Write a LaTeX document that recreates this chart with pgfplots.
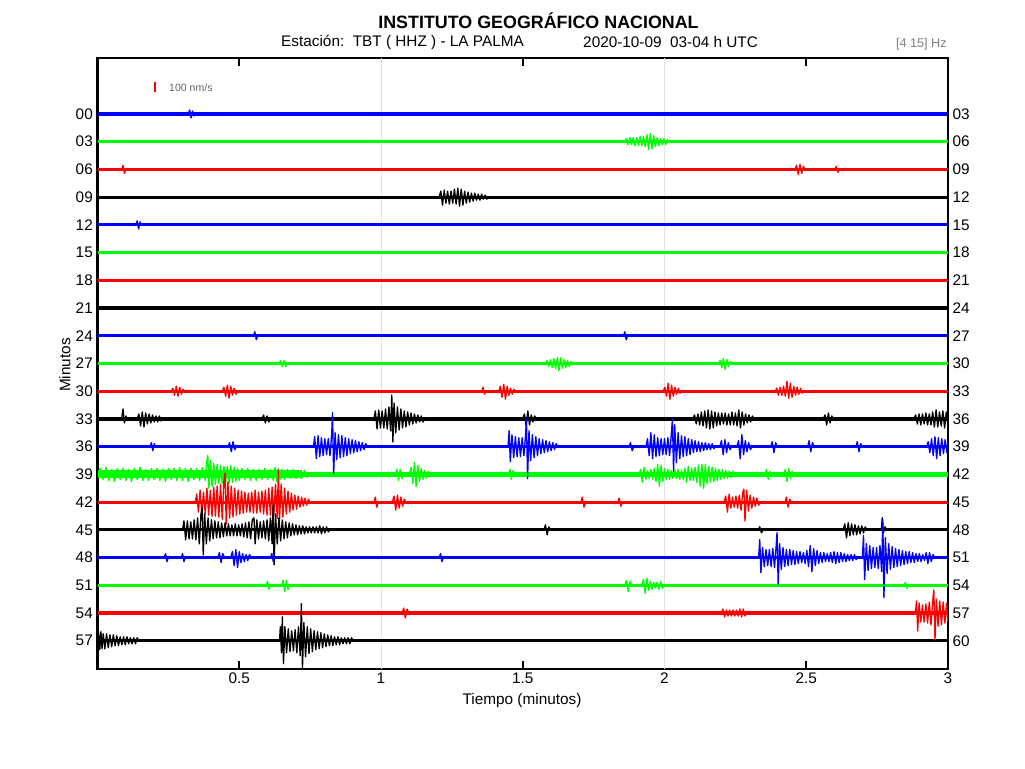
\documentclass[border=0pt]{standalone}
\usepackage{pgfplots}
\pgfplotsset{compat=1.18}
\usepackage{fontspec}
\setmainfont{Liberation Sans}

% one trace: colour, row index, table "t a" (a = amplitude in px)
\newcommand{\trace}[3]{\addplot[#1, line width=1pt, line join=round] table[row sep=\\, x=t, y expr={-#2+\thisrow{a}/27.74}] {#3};}
\newcommand{\base}[2]{\addplot[#1, line width=2.4pt] coordinates {(0,-#2) (3,-#2)};}

\begin{document}
\begin{tikzpicture}
\path[use as bounding box] (-73.125pt,-74.625pt) rectangle (695.625pt,501.375pt);

\begin{axis}[
    at={(0pt,0pt)}, anchor=south west,
    scale only axis, width=637.875pt, height=457.5pt,
    xmin=0, xmax=3, ymin=-20, ymax=2,
    axis line style={line width=1.5pt},
    tick align=inside, major tick length=6pt,
    tick style={line width=1.5pt, black},
    xtick={0.5,1.5,2.5,3}, xticklabels={0.5,1.5,2.5,3},
    extra x ticks={1,2}, extra x tick labels={1,2},
    extra x tick style={grid=major, major tick length=0pt,
        major grid style={gray!22, line width=0.75pt}},
    ytick={0,-1,...,-19},
    yticklabels={00,03,06,09,12,15,18,21,24,27,30,33,36,39,42,45,48,51,54,57},
    ytick style={draw=none},
    tick label style={font=\fontsize{11.5}{13}\selectfont},
]
% noise bands
\base{blue}{0} \base{green}{1} \base{red}{2} \base{black}{3}
\base{blue}{4} \base{green}{5} \base{red}{6} \base{black}{7}
\base{blue}{8} \base{green}{9} \base{red}{10} \base{black}{11}
\base{blue}{12} \addplot[green, line width=3.2pt] coordinates {(0,-13) (3,-13)};
\addplot[green, line width=6pt] coordinates {(0,-13) (0.72,-13)};
\base{red}{14} \base{black}{15}
\base{blue}{16} \base{green}{17} \base{red}{18} \base{black}{19}

% events
\trace{blue}{0}{t a\\0.32 0\\0.325 4\\0.33 -4\\0.335 3\\0.34 -2\\0.345 0\\}
\trace{green}{1}{t a\\1.86 0\\1.866 3\\1.872 -3\\1.878 4\\1.884 -3\\1.89 4\\1.896 -4\\1.902 4\\1.908 -4\\1.914 5\\1.92 -4\\1.926 5\\1.932 -5\\1.938 7\\1.944 -8\\1.95 8\\1.956 -7\\1.962 6\\1.968 -5\\1.974 4\\1.98 -4\\1.986 3\\1.992 -3\\1.998 3\\2.004 -3\\2.01 2\\2.016 0\\}
\trace{red}{2}{t a\\0.085 0\\0.09 4\\0.095 -4\\0.1 0\\2.46 0\\2.466 4\\2.472 -5\\2.478 5\\2.484 -4\\2.49 3\\2.496 0\\2.6 0\\2.606 3\\2.612 -3\\2.618 0\\}
\trace{black}{3}{t a\\1.205 0\\1.211 6\\1.217 -8\\1.223 7\\1.229 -6\\1.235 6\\1.241 -7\\1.247 6\\1.253 -6\\1.259 8\\1.265 -7\\1.271 9\\1.277 -9\\1.283 8\\1.289 -8\\1.295 6\\1.301 -6\\1.307 5\\1.313 -5\\1.319 4\\1.325 -4\\1.331 4\\1.337 -3\\1.343 3\\1.349 -3\\1.355 3\\1.361 -2\\1.367 2\\1.373 -2\\1.38 0\\}
\trace{blue}{4}{t a\\0.135 0\\0.14 4\\0.145 -4\\0.15 3\\0.155 0\\}
\trace{blue}{8}{t a\\0.55 0\\0.555 4\\0.56 -4\\0.565 0\\1.855 0\\1.86 4\\1.865 -4\\1.87 0\\}
\trace{green}{9}{t a\\0.64 0\\0.646 3\\0.652 -3\\0.658 3\\0.664 -3\\0.67 0\\1.58 0\\1.586 3\\1.592 -3\\1.598 4\\1.604 -4\\1.61 5\\1.616 -5\\1.622 6\\1.628 -7\\1.634 6\\1.64 -5\\1.646 4\\1.652 -4\\1.658 3\\1.664 -3\\1.67 2\\1.676 0\\2.19 0\\2.196 3\\2.202 -4\\2.208 5\\2.214 -6\\2.22 4\\2.226 -3\\2.232 2\\2.238 0\\}
\trace{red}{10}{t a\\0.26 0\\0.266 3\\0.272 -4\\0.278 5\\0.284 -5\\0.29 4\\0.296 -3\\0.302 2\\0.308 0\\0.44 0\\0.446 4\\0.452 -5\\0.458 6\\0.464 -7\\0.47 5\\0.476 -4\\0.482 3\\0.488 -3\\0.494 0\\1.355 0\\1.36 4\\1.365 -3\\1.37 0\\1.415 0\\1.421 5\\1.427 -6\\1.433 7\\1.439 -8\\1.445 5\\1.451 -4\\1.457 3\\1.463 -3\\1.469 2\\1.475 0\\1.995 0\\2.001 4\\2.007 -5\\2.013 8\\2.019 -8\\2.025 6\\2.031 -5\\2.037 4\\2.043 -3\\2.049 3\\2.055 -2\\2.061 0\\2.39 0\\2.396 3\\2.402 -4\\2.408 4\\2.414 -4\\2.42 5\\2.426 -5\\2.432 10\\2.438 -7\\2.444 8\\2.45 -6\\2.456 5\\2.462 -4\\2.468 4\\2.474 -3\\2.48 3\\2.486 -2\\2.492 0\\}
\trace{black}{11}{t a\\0.085 0\\0.09 10\\0.095 -4\\0.1 3\\0.105 0\\0.14 0\\0.146 5\\0.152 -7\\0.158 7\\0.164 -8\\0.17 6\\0.176 -5\\0.182 5\\0.188 -4\\0.194 4\\0.2 -3\\0.206 3\\0.212 -3\\0.218 3\\0.224 -2\\0.23 0\\0.58 0\\0.586 4\\0.592 -4\\0.598 3\\0.604 -3\\0.61 0\\0.975 0\\0.98 8\\0.986 -10\\0.992 9\\0.998 -9\\1.004 8\\1.01 -9\\1.016 10\\1.022 -10\\1.028 12\\1.034 -12\\1.038 24\\1.042 -23\\1.046 16\\1.052 -14\\1.058 12\\1.064 -11\\1.07 10\\1.076 -9\\1.082 8\\1.088 -8\\1.094 7\\1.1 -6\\1.106 6\\1.112 -5\\1.118 5\\1.124 -4\\1.13 4\\1.136 -3\\1.142 3\\1.148 -3\\1.155 0\\1.5 0\\1.506 5\\1.512 -7\\1.518 8\\1.524 -6\\1.53 4\\1.536 -3\\1.542 3\\1.548 0\\2.1 0\\2.106 4\\2.112 -5\\2.118 5\\2.124 -6\\2.13 7\\2.136 -7\\2.142 8\\2.148 -9\\2.154 9\\2.16 -10\\2.166 8\\2.172 -9\\2.178 7\\2.184 -7\\2.19 6\\2.196 -6\\2.202 6\\2.208 -5\\2.214 6\\2.22 -6\\2.226 5\\2.232 -6\\2.238 7\\2.244 -6\\2.25 6\\2.256 -7\\2.262 9\\2.268 -9\\2.274 7\\2.28 -6\\2.286 5\\2.292 -4\\2.298 4\\2.304 -3\\2.31 3\\2.316 0\\2.56 0\\2.566 4\\2.572 -6\\2.578 6\\2.584 -4\\2.59 3\\2.596 0\\2.88 0\\2.886 4\\2.892 -5\\2.898 5\\2.904 -6\\2.91 5\\2.916 -5\\2.922 6\\2.928 -6\\2.934 5\\2.94 -6\\2.946 7\\2.952 -8\\2.958 9\\2.964 -8\\2.97 7\\2.976 -7\\2.982 8\\2.988 -9\\2.994 7\\3.0 -6\\}
\trace{blue}{12}{t a\\0.185 0\\0.19 4\\0.195 -4\\0.2 3\\0.205 0\\0.46 0\\0.466 4\\0.472 -5\\0.478 5\\0.484 -3\\0.49 0\\0.762 0\\0.766 10\\0.772 -12\\0.778 11\\0.784 -10\\0.79 9\\0.796 -9\\0.802 8\\0.808 -8\\0.814 8\\0.82 -9\\0.826 12\\0.829 34\\0.833 -28\\0.838 14\\0.844 -13\\0.85 12\\0.856 -11\\0.862 11\\0.868 -10\\0.874 9\\0.88 -9\\0.886 8\\0.892 -7\\0.898 7\\0.904 -6\\0.91 6\\0.916 -5\\0.922 5\\0.928 -4\\0.934 4\\0.94 -3\\0.946 3\\0.952 0\\1.448 0\\1.452 16\\1.456 -15\\1.462 12\\1.468 -11\\1.474 10\\1.48 -10\\1.486 9\\1.492 -10\\1.498 9\\1.504 -9\\1.51 12\\1.513 28\\1.517 -32\\1.522 16\\1.528 -14\\1.534 12\\1.54 -11\\1.546 10\\1.552 -9\\1.558 8\\1.564 -7\\1.57 7\\1.576 -6\\1.582 6\\1.588 -5\\1.594 5\\1.6 -4\\1.606 4\\1.612 -3\\1.618 3\\1.624 0\\1.875 0\\1.88 4\\1.886 -4\\1.892 0\\1.935 0\\1.94 8\\1.946 -9\\1.952 14\\1.958 -12\\1.964 12\\1.97 -10\\1.976 9\\1.982 -9\\1.988 8\\1.994 -8\\2.0 8\\2.006 -8\\2.012 9\\2.018 -9\\2.024 12\\2.028 28\\2.032 -25\\2.036 22\\2.042 -16\\2.048 14\\2.054 -12\\2.06 11\\2.066 -10\\2.072 10\\2.078 -9\\2.084 8\\2.09 -8\\2.096 7\\2.102 -6\\2.108 6\\2.114 -5\\2.12 5\\2.126 -5\\2.132 4\\2.138 -4\\2.144 4\\2.15 -3\\2.156 3\\2.162 -3\\2.168 3\\2.174 -2\\2.18 0\\2.195 0\\2.201 6\\2.207 -8\\2.213 7\\2.219 -6\\2.225 4\\2.231 -3\\2.237 0\\2.255 0\\2.261 6\\2.267 -12\\2.273 12\\2.279 -8\\2.285 6\\2.291 -5\\2.297 4\\2.303 -3\\2.309 0\\2.375 0\\2.38 5\\2.386 -6\\2.392 4\\2.398 0\\2.505 0\\2.51 6\\2.516 -5\\2.522 4\\2.528 0\\2.675 0\\2.68 5\\2.686 -5\\2.692 3\\2.698 0\\2.925 0\\2.93 5\\2.936 -6\\2.942 8\\2.948 -9\\2.954 10\\2.96 -12\\2.966 9\\2.972 -9\\2.978 8\\2.984 -7\\2.99 7\\2.996 -6\\3.0 5\\}
\trace{green}{13}{t a\\0 0\\0.01 6\\0.02 -5\\0.03 7\\0.04 -6\\0.05 5\\0.06 -7\\0.07 6\\0.08 -5\\0.09 6\\0.1 -6\\0.11 5\\0.12 -7\\0.13 6\\0.14 -5\\0.15 7\\0.16 -6\\0.17 5\\0.18 -6\\0.19 6\\0.2 -5\\0.21 6\\0.22 -6\\0.23 5\\0.24 -7\\0.25 6\\0.26 -5\\0.27 6\\0.28 -6\\0.29 7\\0.3 -6\\0.31 6\\0.32 -7\\0.33 6\\0.34 -5\\0.35 6\\0.36 -6\\0.37 7\\0.38 -6\\0.385 12\\0.389 19\\0.393 -14\\0.398 14\\0.404 -12\\0.41 11\\0.416 -10\\0.422 10\\0.428 -9\\0.434 9\\0.44 -9\\0.446 8\\0.452 -8\\0.458 8\\0.464 -9\\0.47 9\\0.476 -8\\0.482 7\\0.488 -7\\0.494 6\\0.5 -6\\0.51 6\\0.52 -5\\0.53 6\\0.54 -6\\0.55 5\\0.56 -6\\0.57 5\\0.58 -5\\0.59 6\\0.6 -5\\0.61 5\\0.62 -6\\0.626 7\\0.632 -7\\0.638 6\\0.644 -5\\0.65 5\\0.66 -5\\0.67 5\\0.68 -4\\0.69 5\\0.7 -4\\0.71 4\\0.72 -4\\0.73 4\\0.74 -3\\0.75 0\\1.05 0\\1.056 5\\1.062 -6\\1.068 5\\1.074 -4\\1.08 0\\1.1 0\\1.106 7\\1.112 -9\\1.118 12\\1.124 -12\\1.13 9\\1.136 -7\\1.142 6\\1.148 -5\\1.154 4\\1.16 -4\\1.166 3\\1.172 0\\1.45 0\\1.455 5\\1.46 -5\\1.466 4\\1.472 0\\1.91 0\\1.916 5\\1.922 -8\\1.928 7\\1.934 -5\\1.94 4\\1.946 -4\\1.952 5\\1.958 -5\\1.964 6\\1.97 -7\\1.976 10\\1.982 -12\\1.988 9\\1.994 -7\\2.0 6\\2.006 -5\\2.012 5\\2.018 -5\\2.024 4\\2.03 -4\\2.036 5\\2.042 -4\\2.048 5\\2.054 -5\\2.06 4\\2.066 -5\\2.072 6\\2.078 -8\\2.084 8\\2.09 -6\\2.096 6\\2.102 -6\\2.108 7\\2.114 -8\\2.12 9\\2.126 -12\\2.132 10\\2.138 -14\\2.144 10\\2.15 -9\\2.156 8\\2.162 -8\\2.168 7\\2.174 -7\\2.18 6\\2.186 -6\\2.192 5\\2.198 -5\\2.204 5\\2.21 -4\\2.216 4\\2.222 -4\\2.228 3\\2.234 -3\\2.24 3\\2.246 0\\2.355 0\\2.36 5\\2.366 -5\\2.372 3\\2.378 0\\2.42 0\\2.426 5\\2.432 -7\\2.438 6\\2.444 -4\\2.45 3\\2.456 0\\}
\trace{red}{14}{t a\\0.345 0\\0.35 8\\0.356 -10\\0.362 12\\0.368 -11\\0.374 10\\0.38 -12\\0.386 14\\0.392 -13\\0.398 12\\0.404 -14\\0.41 15\\0.416 -14\\0.422 16\\0.428 -15\\0.434 18\\0.44 -17\\0.446 22\\0.45 29\\0.454 -22\\0.46 20\\0.466 -16\\0.472 16\\0.478 -15\\0.484 14\\0.49 -13\\0.496 12\\0.502 -12\\0.508 11\\0.514 -11\\0.52 10\\0.526 -10\\0.532 9\\0.538 -10\\0.544 10\\0.55 -11\\0.556 12\\0.562 -11\\0.568 10\\0.574 -10\\0.58 11\\0.586 -12\\0.592 12\\0.598 -13\\0.604 14\\0.61 -13\\0.616 15\\0.622 -14\\0.628 18\\0.634 -16\\0.638 32\\0.642 -18\\0.648 18\\0.654 -15\\0.66 14\\0.666 -12\\0.672 11\\0.678 -10\\0.684 9\\0.69 -8\\0.696 7\\0.702 -7\\0.708 6\\0.714 -5\\0.72 5\\0.726 -4\\0.732 4\\0.738 -3\\0.744 3\\0.75 0\\0.975 0\\0.98 5\\0.985 -5\\0.99 0\\1.04 0\\1.046 6\\1.052 -8\\1.058 7\\1.064 -6\\1.07 5\\1.076 -4\\1.082 3\\1.088 0\\1.705 0\\1.71 5\\1.716 -5\\1.722 0\\1.835 0\\1.84 4\\1.846 -4\\1.852 0\\2.21 0\\2.216 6\\2.222 -10\\2.228 8\\2.234 -6\\2.24 5\\2.246 -5\\2.252 6\\2.258 -6\\2.264 7\\2.27 -8\\2.276 10\\2.28 13\\2.284 -19\\2.29 12\\2.296 -9\\2.302 7\\2.308 -6\\2.314 5\\2.32 -4\\2.326 4\\2.332 -3\\2.338 0\\2.425 0\\2.43 5\\2.436 -5\\2.442 3\\2.448 0\\}
\trace{black}{15}{t a\\0.3 0\\0.305 9\\0.311 -10\\0.317 9\\0.323 -9\\0.329 8\\0.335 -9\\0.341 10\\0.347 -10\\0.353 12\\0.359 -14\\0.365 16\\0.369 22\\0.373 -25\\0.378 16\\0.384 -14\\0.39 12\\0.396 -11\\0.402 10\\0.408 -9\\0.414 9\\0.42 -8\\0.426 8\\0.432 -8\\0.438 7\\0.444 -7\\0.45 7\\0.456 -6\\0.462 6\\0.468 -6\\0.474 5\\0.48 -6\\0.486 6\\0.492 -6\\0.498 5\\0.504 -6\\0.51 6\\0.516 -7\\0.522 7\\0.528 -8\\0.534 8\\0.54 -9\\0.546 10\\0.552 12\\0.556 -14\\0.562 10\\0.568 -9\\0.574 8\\0.58 -8\\0.586 9\\0.592 -9\\0.598 10\\0.604 -11\\0.61 12\\0.616 -14\\0.619 25\\0.623 -35\\0.628 16\\0.634 -14\\0.64 12\\0.646 -11\\0.652 10\\0.658 -9\\0.664 8\\0.67 -8\\0.676 7\\0.682 -6\\0.688 6\\0.694 -5\\0.7 5\\0.706 -5\\0.712 4\\0.718 -4\\0.724 4\\0.73 -4\\0.736 3\\0.742 -3\\0.748 3\\0.754 -3\\0.76 3\\0.766 -3\\0.772 3\\0.778 -3\\0.784 4\\0.79 -4\\0.796 3\\0.802 -3\\0.808 3\\0.814 -2\\0.82 0\\1.575 0\\1.58 5\\1.586 -5\\1.592 3\\1.598 0\\2.33 0\\2.336 3\\2.342 -3\\2.348 0\\2.63 0\\2.636 6\\2.642 -8\\2.648 7\\2.654 -6\\2.66 6\\2.666 -5\\2.672 5\\2.678 -5\\2.684 4\\2.69 -4\\2.696 4\\2.702 -3\\2.708 3\\2.714 0\\2.765 0\\2.768 12\\2.772 -3\\2.778 3\\2.784 0\\}
\trace{blue}{16}{t a\\0.235 0\\0.24 4\\0.245 -4\\0.25 0\\0.295 0\\0.3 4\\0.305 -4\\0.31 0\\0.425 0\\0.43 5\\0.436 -5\\0.442 4\\0.448 0\\0.47 0\\0.476 6\\0.482 -8\\0.488 8\\0.494 -10\\0.5 6\\0.506 -5\\0.512 4\\0.518 -4\\0.524 3\\0.53 -3\\0.536 3\\0.542 0\\0.61 0\\0.615 4\\0.62 -4\\0.625 0\\1.205 0\\1.21 4\\1.215 -4\\1.22 0\\2.332 0\\2.336 18\\2.34 -15\\2.346 10\\2.352 -9\\2.358 8\\2.364 -8\\2.37 8\\2.376 -9\\2.382 9\\2.388 -10\\2.394 12\\2.397 25\\2.401 -27\\2.406 14\\2.412 -12\\2.418 10\\2.424 -9\\2.43 8\\2.436 -8\\2.442 8\\2.448 -7\\2.454 7\\2.46 -7\\2.466 6\\2.472 -6\\2.478 6\\2.484 -5\\2.49 5\\2.496 -6\\2.502 7\\2.508 -9\\2.514 12\\2.52 -14\\2.526 9\\2.532 -8\\2.538 7\\2.544 -6\\2.55 5\\2.556 -5\\2.562 5\\2.568 -4\\2.574 4\\2.58 -4\\2.586 5\\2.592 -5\\2.598 6\\2.604 -6\\2.61 5\\2.616 -5\\2.622 5\\2.628 -4\\2.634 4\\2.64 -4\\2.646 3\\2.652 -3\\2.658 3\\2.664 -3\\2.67 3\\2.676 -2\\2.682 0\\2.698 0\\2.702 22\\2.706 -22\\2.712 14\\2.718 -13\\2.724 12\\2.73 -11\\2.736 10\\2.742 -10\\2.748 10\\2.754 -11\\2.76 12\\2.766 -14\\2.77 38\\2.774 -40\\2.779 20\\2.785 -16\\2.791 14\\2.797 -12\\2.803 11\\2.809 -10\\2.815 9\\2.821 -9\\2.827 8\\2.833 -8\\2.839 7\\2.845 -7\\2.851 6\\2.857 -6\\2.863 6\\2.869 -5\\2.875 5\\2.881 -5\\2.887 4\\2.893 -4\\2.899 4\\2.905 -4\\2.911 3\\2.917 -3\\2.923 5\\2.929 -6\\2.935 5\\2.941 -4\\2.947 3\\2.953 0\\}
\trace{green}{17}{t a\\0.595 0\\0.6 4\\0.605 -4\\0.61 0\\0.65 0\\0.655 5\\0.66 -6\\0.666 5\\0.672 -4\\0.678 0\\1.86 0\\1.866 5\\1.872 -6\\1.878 4\\1.884 0\\1.92 0\\1.926 6\\1.932 -8\\1.938 7\\1.944 -5\\1.95 4\\1.956 -4\\1.962 3\\1.968 -3\\1.974 3\\1.98 -4\\1.986 4\\1.992 -3\\1.998 0\\2.845 0\\2.85 3\\2.855 -3\\2.86 0\\}
\trace{red}{18}{t a\\1.075 0\\1.08 5\\1.086 -5\\1.092 4\\1.098 0\\2.2 0\\2.206 4\\2.212 -4\\2.218 3\\2.224 -3\\2.23 3\\2.236 -3\\2.242 3\\2.248 -3\\2.254 3\\2.26 -3\\2.266 4\\2.272 -4\\2.278 4\\2.284 -3\\2.29 0\\2.885 0\\2.889 12\\2.893 -18\\2.898 10\\2.904 -9\\2.91 8\\2.916 -9\\2.922 9\\2.928 -10\\2.934 11\\2.94 -12\\2.946 12\\2.95 23\\2.954 -27\\2.959 14\\2.965 -13\\2.971 12\\2.977 -12\\2.983 11\\2.989 -10\\2.995 10\\3.0 -9\\}
\trace{black}{19}{t a\\0 -10\\0.004 8\\0.008 -9\\0.012 9\\0.016 -8\\0.02 7\\0.026 -8\\0.032 7\\0.038 -7\\0.044 6\\0.05 -6\\0.056 6\\0.062 -5\\0.068 5\\0.074 -5\\0.08 4\\0.086 -4\\0.092 4\\0.098 -4\\0.104 4\\0.11 -3\\0.116 3\\0.122 -3\\0.128 3\\0.134 -3\\0.14 3\\0.146 0\\0.642 0\\0.645 14\\0.649 -12\\0.652 24\\0.656 -23\\0.661 14\\0.667 -12\\0.673 12\\0.679 -11\\0.685 10\\0.691 -10\\0.697 11\\0.703 -12\\0.709 14\\0.715 -15\\0.719 37\\0.723 -27\\0.728 18\\0.734 -16\\0.74 14\\0.746 -13\\0.752 12\\0.758 -11\\0.764 10\\0.77 -9\\0.776 9\\0.782 -8\\0.788 8\\0.794 -7\\0.8 7\\0.806 -6\\0.812 6\\0.818 -5\\0.824 5\\0.83 -5\\0.836 4\\0.842 -4\\0.848 4\\0.854 -4\\0.86 3\\0.866 -3\\0.872 3\\0.878 -3\\0.884 3\\0.89 -3\\0.896 3\\0.902 0\\}

% amplitude scale bar
\addplot[red, line width=1.5pt] coordinates {(0.203,0.775) (0.203,1.136)};
\node[anchor=west, inner sep=0pt, text=black!60, font=\fontsize{7.9}{9}\selectfont] at (axis cs:0.252,0.955) {100 nm/s};
\end{axis}

% right-hand minute labels
\begin{axis}[
    at={(0pt,0pt)}, anchor=south west,
    scale only axis, width=637.875pt, height=457.5pt,
    xmin=0, xmax=3, ymin=-20, ymax=2,
    axis line style={draw=none},
    xtick=\empty,
    ytick={0,-1,...,-19},
    yticklabels={03,06,09,12,15,18,21,24,27,30,33,36,39,42,45,48,51,54,57,60},
    yticklabel pos=right,
    ytick style={draw=none},
    tick label style={font=\fontsize{11.5}{13}\selectfont},
]
\end{axis}

\node[font=\fontsize{13.4}{16}\selectfont\bfseries] at (330.75pt,485.6pt) {INSTITUTO GEOGRÁFICO NACIONAL};
\node[anchor=west, font=\fontsize{11.5}{13}\selectfont, inner sep=0pt] at (137.6pt,469.9pt) {Estación:\ \ TBT ( HHZ ) - LA PALMA};
\node[anchor=west, font=\fontsize{11.5}{13}\selectfont, inner sep=0pt] at (364.1pt,469.9pt) {2020-10-09\ \ 03-04 h UTC};
\node[anchor=east, font=\fontsize{9.5}{11}\selectfont, text=black!50, inner sep=0pt] at (637.1pt,468.4pt) {[4 15] Hz};
\node[font=\fontsize{11.5}{13}\selectfont] at (318.4pt,-24.4pt) {Tiempo (minutos)};
\node[rotate=90, font=\fontsize{11.5}{13}\selectfont] at (-24.4pt,227.6pt) {Minutos};
\end{tikzpicture}
\end{document}
